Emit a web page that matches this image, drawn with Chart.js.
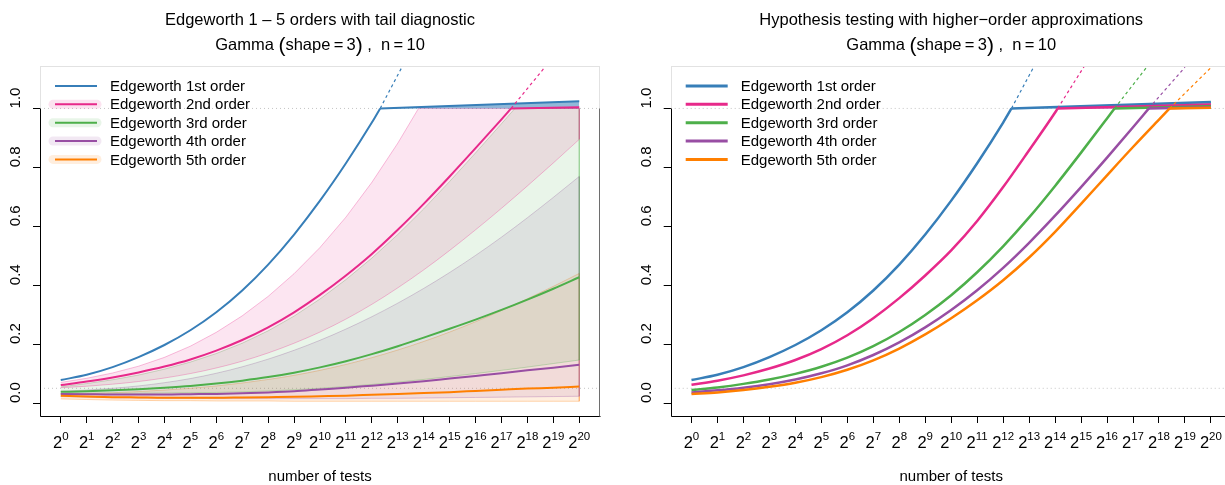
<!DOCTYPE html>
<html>
<head>
<meta charset="utf-8">
<title>Edgeworth</title>
<script src="https://cdn.jsdelivr.net/npm/chart.js@4.4.1/dist/chart.umd.min.js"></script>
<style>
html, body { margin: 0; padding: 0; background: #fff; overflow: hidden; }
#quadro { position: relative; width: 1225px; height: 485px; overflow: hidden; }
canvas { position: absolute; top: 0; }
#graficoEsq { left: 0; }
#graficoDir { left: 612px; }
</style>
</head>
<body>
<div id="quadro">
<canvas id="graficoEsq" width="612" height="485"></canvas>
<canvas id="graficoDir" width="620" height="485"></canvas>
</div>
<script>
var expoentes = [0,1,2,3,4,5,6,7,8,9,10,11,12,13,14,15,16,17,18,19,20]
var marcasY = [0, 0.2, 0.4, 0.6, 0.8, 1]
var rotulosY = ['0.0', '0.2', '0.4', '0.6', '0.8', '1.0']
var limitesX = [-0.8, 20.8]
var limitesY = [-0.044, 1.144]
var referencias = [1, 0.05]
var nomes = ['Edgeworth 1st order', 'Edgeworth 2nd order', 'Edgeworth 3rd order', 'Edgeworth 4th order', 'Edgeworth 5th order']
var cores = ['#377eb8', '#e7298a', '#4daf4a', '#984ea3', '#ff7f00']

// painel esquerdo: valor em 2^0, 2^1, ...
var esqOrdem1 = [0.078, 0.096, 0.122, 0.156, 0.197, 0.247, 0.308, 0.382, 0.470, 0.572, 0.687, 0.814, 0.952]
var esqOrdem2 = [0.061, 0.073, 0.087, 0.104, 0.124, 0.148, 0.178, 0.214, 0.257, 0.308, 0.367, 0.433, 0.506, 0.588, 0.676, 0.769, 0.865, 0.963]
var esqOrdem3 = [0.038, 0.040, 0.043, 0.047, 0.052, 0.058, 0.066, 0.076, 0.088, 0.103, 0.121, 0.142, 0.166, 0.193, 0.222, 0.252, 0.283, 0.316, 0.351, 0.388, 0.427]
var esqOrdem4 = [0.031, 0.030, 0.029, 0.029, 0.029, 0.030, 0.031, 0.033, 0.036, 0.040, 0.046, 0.052, 0.059, 0.066, 0.074, 0.083, 0.092, 0.101, 0.111, 0.12, 0.13]
var esqOrdem5 = [0.025, 0.022, 0.020, 0.019, 0.018, 0.018, 0.018, 0.019, 0.020, 0.021, 0.023, 0.025, 0.028, 0.031, 0.034, 0.037, 0.041, 0.045, 0.049, 0.052, 0.056]
// [x onde chega a 1, x e y onde o tracejado sai do painel, valor em 2^20 depois do corte]
var esqFim1 = [12.32, 13.16, 1.14, 1.024]
var esqFim2 = [17.37, 18.74, 1.147, 1.004]

// faixas do painel esquerdo (borda superior ate chegar a 1, borda inferior)
var faixaSup2 = [0.07, 0.084, 0.102, 0.125, 0.155, 0.193, 0.240, 0.296, 0.362, 0.439, 0.528, 0.631, 0.749, 0.882]
var faixaSup2Corte = 13.8
var faixaInf2 = [0.052, 0.057, 0.064, 0.073, 0.085, 0.100, 0.119, 0.142, 0.170, 0.203, 0.241, 0.285, 0.335, 0.391, 0.452, 0.518, 0.588, 0.661, 0.737, 0.815, 0.895]
var faixaSup3 = [0.055, 0.066, 0.079, 0.095, 0.115, 0.139, 0.168, 0.203, 0.245, 0.295, 0.353, 0.419, 0.492, 0.572, 0.659, 0.752, 0.849, 0.948]
var faixaSup3Corte = 17.52
var faixaInf3 = [0.033, 0.033, 0.033, 0.033, 0.034, 0.035, 0.036, 0.038, 0.041, 0.045, 0.05, 0.056, 0.063, 0.071, 0.08, 0.09, 0.1, 0.111, 0.122, 0.134, 0.146]
var faixaSup4 = [0.04, 0.044, 0.050, 0.058, 0.069, 0.083, 0.101, 0.123, 0.149, 0.179, 0.213, 0.251, 0.293, 0.339, 0.389, 0.443, 0.501, 0.563, 0.629, 0.698, 0.769]
var faixaInf4 = [0.022, 0.02, 0.018, 0.017, 0.016, 0.016, 0.015, 0.015, 0.015, 0.015, 0.015, 0.015, 0.016, 0.016, 0.017, 0.018, 0.019, 0.02, 0.021, 0.022, 0.023]
var faixaSup5 = [0.032, 0.033, 0.035, 0.039, 0.044, 0.050, 0.058, 0.068, 0.080, 0.094, 0.111, 0.131, 0.154, 0.180, 0.209, 0.241, 0.276, 0.314, 0.354, 0.396, 0.44]
var faixaInf5 = [0.014, 0.012, 0.01, 0.009, 0.008, 0.008, 0.007, 0.007, 0.007, 0.006, 0.006, 0.006, 0.006, 0.006, 0.006, 0.006, 0.006, 0.006, 0.006, 0.006, 0.006]

// painel direito (a 1a ordem e a mesma do painel esquerdo)
var dirOrdem2 = [0.062, 0.076, 0.094, 0.117, 0.146, 0.183, 0.230, 0.288, 0.356, 0.433, 0.518, 0.618, 0.733, 0.858, 0.986]
var dirOrdem3 = [0.044, 0.053, 0.065, 0.080, 0.099, 0.123, 0.154, 0.193, 0.241, 0.299, 0.366, 0.444, 0.532, 0.630, 0.737, 0.850, 0.966]
var dirOrdem4 = [0.036, 0.043, 0.052, 0.064, 0.080, 0.101, 0.128, 0.163, 0.206, 0.257, 0.316, 0.383, 0.459, 0.544, 0.636, 0.733, 0.833, 0.936]
var dirOrdem5 = [0.031, 0.036, 0.044, 0.055, 0.069, 0.088, 0.113, 0.145, 0.185, 0.233, 0.288, 0.349, 0.417, 0.494, 0.581, 0.676, 0.773, 0.869, 0.962]
var dirFim1 = [12.32, 13.16, 1.138, 1.022]
var dirFim2 = [14.1, 15.15, 1.147, 1.013]
var dirFim3 = [16.29, 17.59, 1.147, 1.007]
var dirFim4 = [17.61, 19.0, 1.14, 1.004]
var dirFim5 = [18.41, 19.97, 1.136, 1.002]

var fonte = '"Liberation Sans", Arial, Helvetica, sans-serif'

function transp(cor, alfa){
    var r = parseInt(cor.substr(1, 2), 16)
    var g = parseInt(cor.substr(3, 2), 16)
    var b = parseInt(cor.substr(5, 2), 16)
    return 'rgba(' + r + ',' + g + ',' + b + ',' + alfa + ')'
}

function pontos(valores){
    var p = []
    valores.forEach((v, i) => {
        p.push({x: expoentes[i], y: v})
    })
    return p
}

function addLinha(lista, cor, valores, fim, largura, ordem){
    var solida = pontos(valores)
    if(fim) solida.push({x: fim[0], y: 1})
    lista.push({data: solida, borderColor: cor, borderWidth: largura, cubicInterpolationMode: 'monotone', order: ordem})
    if(fim){
        lista.push({data: [{x: fim[0], y: 1}, {x: fim[1], y: fim[2]}], borderColor: cor, borderWidth: 1.2, borderDash: [3, 3], order: ordem})
        lista.push({data: [{x: fim[0], y: 1}, {x: expoentes[20], y: fim[3]}], borderColor: cor, borderWidth: largura,
            fill: {value: 1}, backgroundColor: transp(cor, 0.55), order: ordem})
    }
}

function addFaixa(lista, cor, sup, supCorte, inf){
    var borda = transp(cor, 0.3)
    var fundo = transp(cor, 0.12)
    var pSup = pontos(sup)
    var iInf = lista.length + 1
    var modo = 'monotone'
    if(supCorte){
        // depois de chegar a 1 a borda superior fica presa em 1
        pSup.push({x: supCorte, y: 1}, {x: expoentes[20], y: 1})
        modo = 'default'
    }
    lista.push({data: pSup, borderColor: borda, borderWidth: 1, backgroundColor: fundo, fill: iInf,
        cubicInterpolationMode: modo, order: 50})
    lista.push({data: pontos(inf), borderColor: borda, borderWidth: 1, cubicInterpolationMode: 'monotone', order: 50})
    var topo = supCorte ? 1 : sup[20]
    lista.push({data: [{x: 20, y: topo}, {x: 20, y: inf[20]}], borderColor: borda, borderWidth: 1, order: 50})
}

function addReferencias(lista){
    referencias.forEach((r) => {
        lista.push({data: [{x: limitesX[0], y: r}, {x: limitesX[1], y: r}], borderColor: '#c4c4c4', borderWidth: 1,
            borderDash: [1, 3], order: 60})
    })
}

function subtitulo(ctx, cx, base){
    var partes = [['Gamma ', 16.5], ['(', 21], ['shape\u2009=\u20093', 16.5], [')', 21], [' ,  n\u2009=\u200910', 16.5]]
    var total = 0
    partes.forEach((p) => {
        ctx.font = p[1] + 'px ' + fonte
        total += ctx.measureText(p[0]).width
    })
    var x = cx - total / 2
    ctx.textAlign = 'left'
    partes.forEach((p) => {
        ctx.font = p[1] + 'px ' + fonte
        ctx.fillText(p[0], x, p[1] > 17 ? base + 1.5 : base)
        x += ctx.measureText(p[0]).width
    })
}

var enfeites = {
    id: 'enfeites',
    afterDraw: function(chart, args, op){
        var ctx = chart.ctx
        var a = chart.chartArea
        var sx = chart.scales.x
        var sy = chart.scales.y
        var meio = (a.left + a.right) / 2
        ctx.save()

        // moldura
        var l = Math.round(a.left) + 0.5
        var r = Math.round(a.right) - 0.5
        var t = Math.round(a.top) + 0.5
        var b = Math.round(a.bottom) + 0.5
        var y1 = Math.round(sy.getPixelForValue(1)) + 0.5
        ctx.lineWidth = 1
        ctx.strokeStyle = '#e2e2e2'
        ctx.strokeRect(l, t, r - l, b - t)
        ctx.strokeStyle = '#000'
        ctx.beginPath()
        ctx.moveTo(l, y1); ctx.lineTo(l, b); ctx.lineTo(r + 1, b)
        ctx.stroke()
        ctx.strokeStyle = '#6e6e6e'
        ctx.beginPath()
        ctx.moveTo(r, y1); ctx.lineTo(r, b)
        ctx.stroke()

        ctx.fillStyle = '#000'
        // titulos
        ctx.textAlign = 'center'
        ctx.textBaseline = 'alphabetic'
        ctx.font = '16.5px ' + fonte
        ctx.fillText(op.titulo, meio, 25)
        subtitulo(ctx, meio, 50)

        // rotulos do eixo y
        ctx.font = '15px ' + fonte
        ctx.textBaseline = 'middle'
        marcasY.forEach((v, i) => {
            ctx.save()
            ctx.translate(a.left - 24, sy.getPixelForValue(v))
            ctx.rotate(-Math.PI / 2)
            ctx.fillText(rotulosY[i], 0, 0)
            ctx.restore()
        })

        // rotulos do eixo x: 2^k
        ctx.textBaseline = 'alphabetic'
        ctx.textAlign = 'left'
        expoentes.forEach((k) => {
            ctx.font = '16.5px ' + fonte
            var w2 = ctx.measureText('2').width
            ctx.font = '11.5px ' + fonte
            var wk = ctx.measureText(String(k)).width
            var x0 = sx.getPixelForValue(k) - (w2 + wk) / 2
            ctx.font = '16.5px ' + fonte
            ctx.fillText('2', x0, 448)
            ctx.font = '11.5px ' + fonte
            ctx.fillText(String(k), x0 + w2, 440)
        })
        ctx.font = '15px ' + fonte
        ctx.textAlign = 'center'
        ctx.fillText('number of tests', meio, 481)

        // legenda
        ctx.textAlign = 'left'
        ctx.textBaseline = 'middle'
        nomes.forEach((n, i) => {
            var y = a.top + 20 + i * 18.35
            if(op.aureola && i > 0){
                ctx.lineCap = 'round'
                ctx.strokeStyle = transp(cores[i], 0.13)
                ctx.lineWidth = 9
                ctx.beginPath(); ctx.moveTo(a.left + 13, y); ctx.lineTo(a.left + 57, y); ctx.stroke()
            }
            ctx.lineCap = 'butt'
            ctx.strokeStyle = cores[i]
            ctx.lineWidth = op.larguraLegenda
            ctx.beginPath(); ctx.moveTo(a.left + 15, y); ctx.lineTo(a.left + 57, y); ctx.stroke()
            ctx.fillText(n, a.left + 70, y + 1)
        })
        ctx.restore()
    }
}

function montarGrafico(id, datasets, titulo, aureola, larguraLegenda, padEsq, padDir){
    var ctx = document.getElementById(id).getContext('2d')
    return new Chart(ctx, {
        type: 'line',
        data: {datasets: datasets},
        plugins: [enfeites],
        options: {
            responsive: false,
            animation: false,
            events: [],
            devicePixelRatio: 1,
            layout: {padding: {left: padEsq, right: padDir, top: 66, bottom: 0}},
            elements: {point: {radius: 0}, line: {borderCapStyle: 'butt'}},
            plugins: {
                legend: {display: false},
                tooltip: {enabled: false},
                enfeites: {titulo: titulo, aureola: aureola, larguraLegenda: larguraLegenda}
            },
            scales: {
                x: {
                    type: 'linear', min: limitesX[0], max: limitesX[1],
                    afterBuildTicks: function(s){ s.ticks = expoentes.map((k) => ({value: k})) },
                    afterFit: function(s){ s.height = 69 },
                    ticks: {display: false},
                    border: {display: false},
                    grid: {display: true, drawOnChartArea: false, drawTicks: true, tickLength: 7, tickColor: '#000', lineWidth: 1}
                },
                y: {
                    type: 'linear', min: limitesY[0], max: limitesY[1],
                    afterBuildTicks: function(s){ s.ticks = marcasY.map((v) => ({value: v})) },
                    afterFit: function(s){ s.width = 40 },
                    ticks: {display: false},
                    border: {display: false},
                    grid: {display: true, drawOnChartArea: false, drawTicks: true, tickLength: 7, tickColor: '#000', lineWidth: 1}
                }
            }
        }
    })
}

var dadosEsq = []
addReferencias(dadosEsq)
addFaixa(dadosEsq, cores[1], faixaSup2, faixaSup2Corte, faixaInf2)
addFaixa(dadosEsq, cores[2], faixaSup3, faixaSup3Corte, faixaInf3)
addFaixa(dadosEsq, cores[3], faixaSup4, null, faixaInf4)
addFaixa(dadosEsq, cores[4], faixaSup5, null, faixaInf5)
addLinha(dadosEsq, cores[0], esqOrdem1, esqFim1, 2, 9)
addLinha(dadosEsq, cores[1], esqOrdem2, esqFim2, 2, 8)
addLinha(dadosEsq, cores[2], esqOrdem3, null, 2, 7)
addLinha(dadosEsq, cores[3], esqOrdem4, null, 2, 6)
addLinha(dadosEsq, cores[4], esqOrdem5, null, 2, 5)

var dadosDir = []
addReferencias(dadosDir)
addLinha(dadosDir, cores[0], esqOrdem1, dirFim1, 2.5, 9)
addLinha(dadosDir, cores[1], dirOrdem2, dirFim2, 2.5, 8)
addLinha(dadosDir, cores[2], dirOrdem3, dirFim3, 2.5, 7)
addLinha(dadosDir, cores[3], dirOrdem4, dirFim4, 2.5, 6)
addLinha(dadosDir, cores[4], dirOrdem5, dirFim5, 2.5, 5)

montarGrafico('graficoEsq', dadosEsq, 'Edgeworth 1 \u2013 5 orders with tail diagnostic', true, 2, 0, 12)
montarGrafico('graficoDir', dadosDir, 'Hypothesis testing with higher\u2212order approximations', false, 3, 18.7, 0.3)
</script>
</body>
</html>
